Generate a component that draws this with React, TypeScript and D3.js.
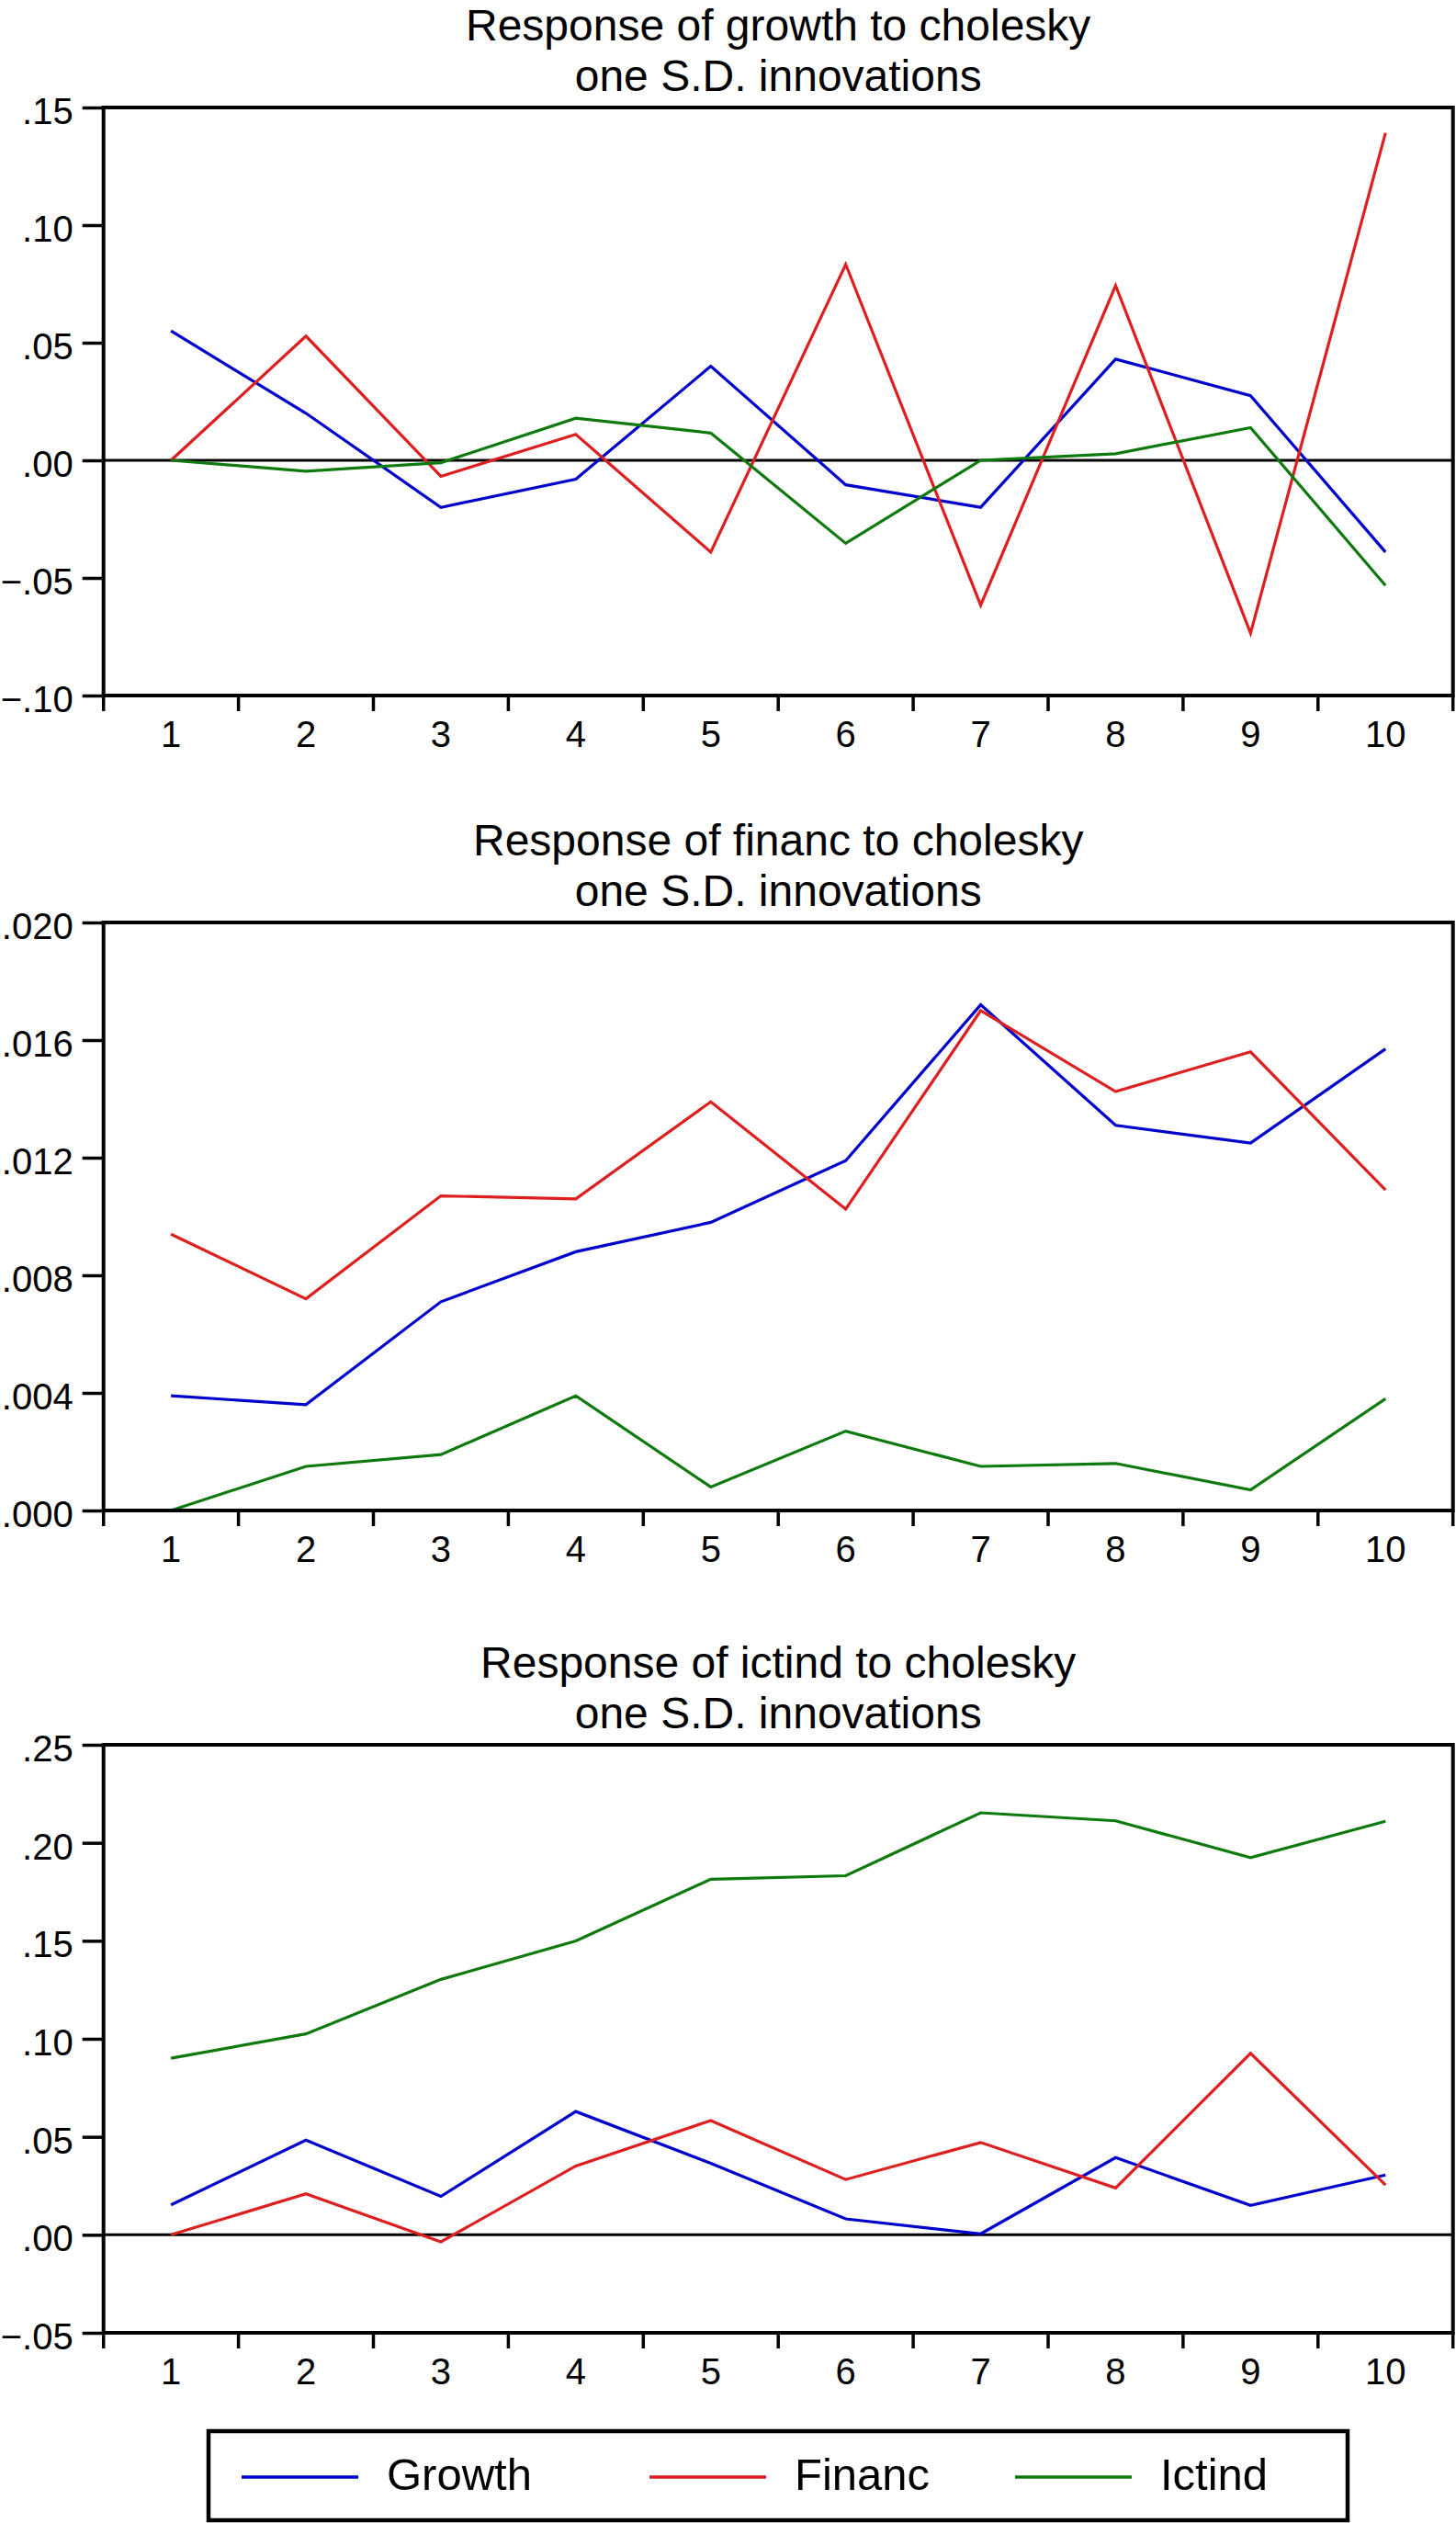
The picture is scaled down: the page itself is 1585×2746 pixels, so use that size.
import { useEffect, useRef } from "react";
import * as d3 from "d3";

const W = 1585;
const H = 2746;
const FONT = "'Liberation Sans', Arial, Helvetica, sans-serif";

const PERIODS = ["1", "2", "3", "4", "5", "6", "7", "8", "9", "10"];
const SERIES_NAMES = ["Growth", "Financ", "Ictind"];
const SERIES_COLORS = ["#0000cc", "#dd1f1f", "#0e7a0e"];
const SUBTITLE = "one S.D. innovations";

// Response of growth
const G_GROWTH = [0.055, 0.020, -0.020, -0.008, 0.040, -0.0104, -0.020, 0.043, 0.0275, -0.039];
const G_FINANC = [0, 0.0528, -0.0068, 0.011, -0.039, 0.0833, -0.0616, 0.0743, -0.0735, 0.1392];
const G_ICTIND = [0, -0.0046, -0.001, 0.0179, 0.0116, -0.0353, 0, 0.0028, 0.0139, -0.0532];
const G_TICKS = [-0.10, -0.05, 0, 0.05, 0.10, 0.15];

// Response of financ
const F_GROWTH = [0.0039, 0.0036, 0.0071, 0.0088, 0.0098, 0.0119, 0.0172, 0.0131, 0.0125, 0.0157];
const F_FINANC = [0.0094, 0.0072, 0.0107, 0.0106, 0.0139, 0.01025, 0.0170, 0.01425, 0.0156, 0.0109];
const F_ICTIND = [0, 0.0015, 0.0019, 0.0039, 0.0008, 0.0027, 0.0015, 0.0016, 0.0007, 0.0038];
const F_TICKS = [0, 0.004, 0.008, 0.012, 0.016, 0.020];

// Response of ictind
const I_GROWTH = [0.0153, 0.0483, 0.0196, 0.0629, 0.0365, 0.0081, 0.0005, 0.0394, 0.015, 0.0305];
const I_FINANC = [0, 0.0209, -0.0036, 0.0351, 0.0583, 0.0282, 0.0471, 0.0239, 0.0926, 0.0254];
const I_ICTIND = [0.0901, 0.1025, 0.1303, 0.1499, 0.1814, 0.1832, 0.2153, 0.2112, 0.1924, 0.211];
const I_TICKS = [-0.05, 0, 0.05, 0.10, 0.15, 0.20, 0.25];

const fmt = (digits: number) => (v: d3.NumberValue) =>
  d3.format(`.${digits}f`)(Math.abs(+v) < 1e-9 ? 0 : +v).replace("0.", ".").replace("-", "\u2013");

export default function App() {
  const ref = useRef<SVGSVGElement>(null);

  useEffect(() => {
    if (!ref.current) return;
    const svg = d3.select(ref.current).attr("width", W).attr("height", H);
    svg.selectAll("*").remove();

    const ML = 112.7, MR = 1581.7, PH = 640;
    const panels = [
      { title: "Response of growth to cholesky", top: 117, ticks: G_TICKS, digits: 2, series: [G_GROWTH, G_FINANC, G_ICTIND] },
      { title: "Response of financ to cholesky", top: 1004, ticks: F_TICKS, digits: 3, series: [F_GROWTH, F_FINANC, F_ICTIND] },
      { title: "Response of ictind to cholesky", top: 1899, ticks: I_TICKS, digits: 2, series: [I_GROWTH, I_FINANC, I_ICTIND] },
    ];

    const x = d3.scaleBand<string>().domain(PERIODS).range([ML, MR]).padding(0);
    const cx = (i: number) => x(PERIODS[i])! + x.bandwidth() / 2;

    panels.forEach(p => {
      const y = d3.scaleLinear()
        .domain([d3.min(p.ticks)!, d3.max(p.ticks)!])
        .range([p.top + PH, p.top]);
      const g = svg.append("g");

      // Title
      const t = g.append("text")
        .attr("text-anchor", "middle")
        .attr("font-family", FONT).attr("font-size", 48).attr("fill", "#000");
      t.append("tspan").attr("x", (ML + MR) / 2).attr("y", p.top - 73).text(p.title);
      t.append("tspan").attr("x", (ML + MR) / 2).attr("y", p.top - 18).text(SUBTITLE);

      // Zero line
      if (y.domain()[0] < 0) {
        g.append("line")
          .attr("x1", ML).attr("x2", MR)
          .attr("y1", y(0)).attr("y2", y(0))
          .attr("stroke", "#000").attr("stroke-width", 3);
      }

      // Lines
      const line = d3.line<number>().x((_, i) => cx(i)).y(d => y(d));
      p.series.forEach((s, i) => {
        g.append("path").datum(s)
          .attr("d", line)
          .attr("fill", "none")
          .attr("stroke", SERIES_COLORS[i])
          .attr("stroke-width", 3.2)
          .attr("stroke-linejoin", "miter");
      });

      // Y axis
      g.append("g").attr("transform", `translate(${ML},0)`)
        .call(d3.axisLeft(y).tickValues(p.ticks).tickSize(23).tickPadding(10).tickFormat(fmt(p.digits)))
        .call(a => a.select(".domain").remove())
        .call(a => a.selectAll("line").attr("stroke", "#000").attr("stroke-width", 3.5))
        .call(a => a.selectAll("text")
          .attr("dy", "0.44em")
          .attr("font-size", 40).attr("font-family", FONT).attr("fill", "#000"));

      // X ticks at period boundaries
      const bounds = [...PERIODS.map(d => x(d)!), MR];
      g.selectAll("line.xt").data(bounds).enter().append("line")
        .attr("x1", d => d).attr("x2", d => d)
        .attr("y1", p.top + PH).attr("y2", p.top + PH + 17)
        .attr("stroke", "#000").attr("stroke-width", 3.5);

      // X labels
      g.selectAll("text.xl").data(PERIODS).enter().append("text")
        .attr("x", d => x(d)! + x.bandwidth() / 2)
        .attr("y", p.top + PH + 56)
        .attr("text-anchor", "middle")
        .attr("font-family", FONT).attr("font-size", 40).attr("fill", "#000")
        .text(d => d);

      // Frame
      g.append("rect")
        .attr("x", ML).attr("y", p.top)
        .attr("width", MR - ML).attr("height", PH)
        .attr("fill", "none").attr("stroke", "#000").attr("stroke-width", 4);
    });

    // Legend
    const lg = svg.append("g");
    lg.append("rect")
      .attr("x", 227).attr("y", 2646).attr("width", 1240).attr("height", 97)
      .attr("fill", "none").attr("stroke", "#000").attr("stroke-width", 4.5);
    const lineX = [263, 707, 1105];
    SERIES_NAMES.forEach((name, i) => {
      lg.append("line")
        .attr("x1", lineX[i]).attr("x2", lineX[i] + 127)
        .attr("y1", 2696).attr("y2", 2696)
        .attr("stroke", SERIES_COLORS[i]).attr("stroke-width", 3.5);
      lg.append("text")
        .attr("x", lineX[i] + 158).attr("y", 2710)
        .attr("font-family", FONT).attr("font-size", 49).attr("fill", "#000")
        .text(name);
    });
  }, []);

  return (
    <div style={{ position: "absolute", left: 0, top: 0, background: "#fff" }}>
      <svg ref={ref} style={{ display: "block" }} />
    </div>
  );
}
